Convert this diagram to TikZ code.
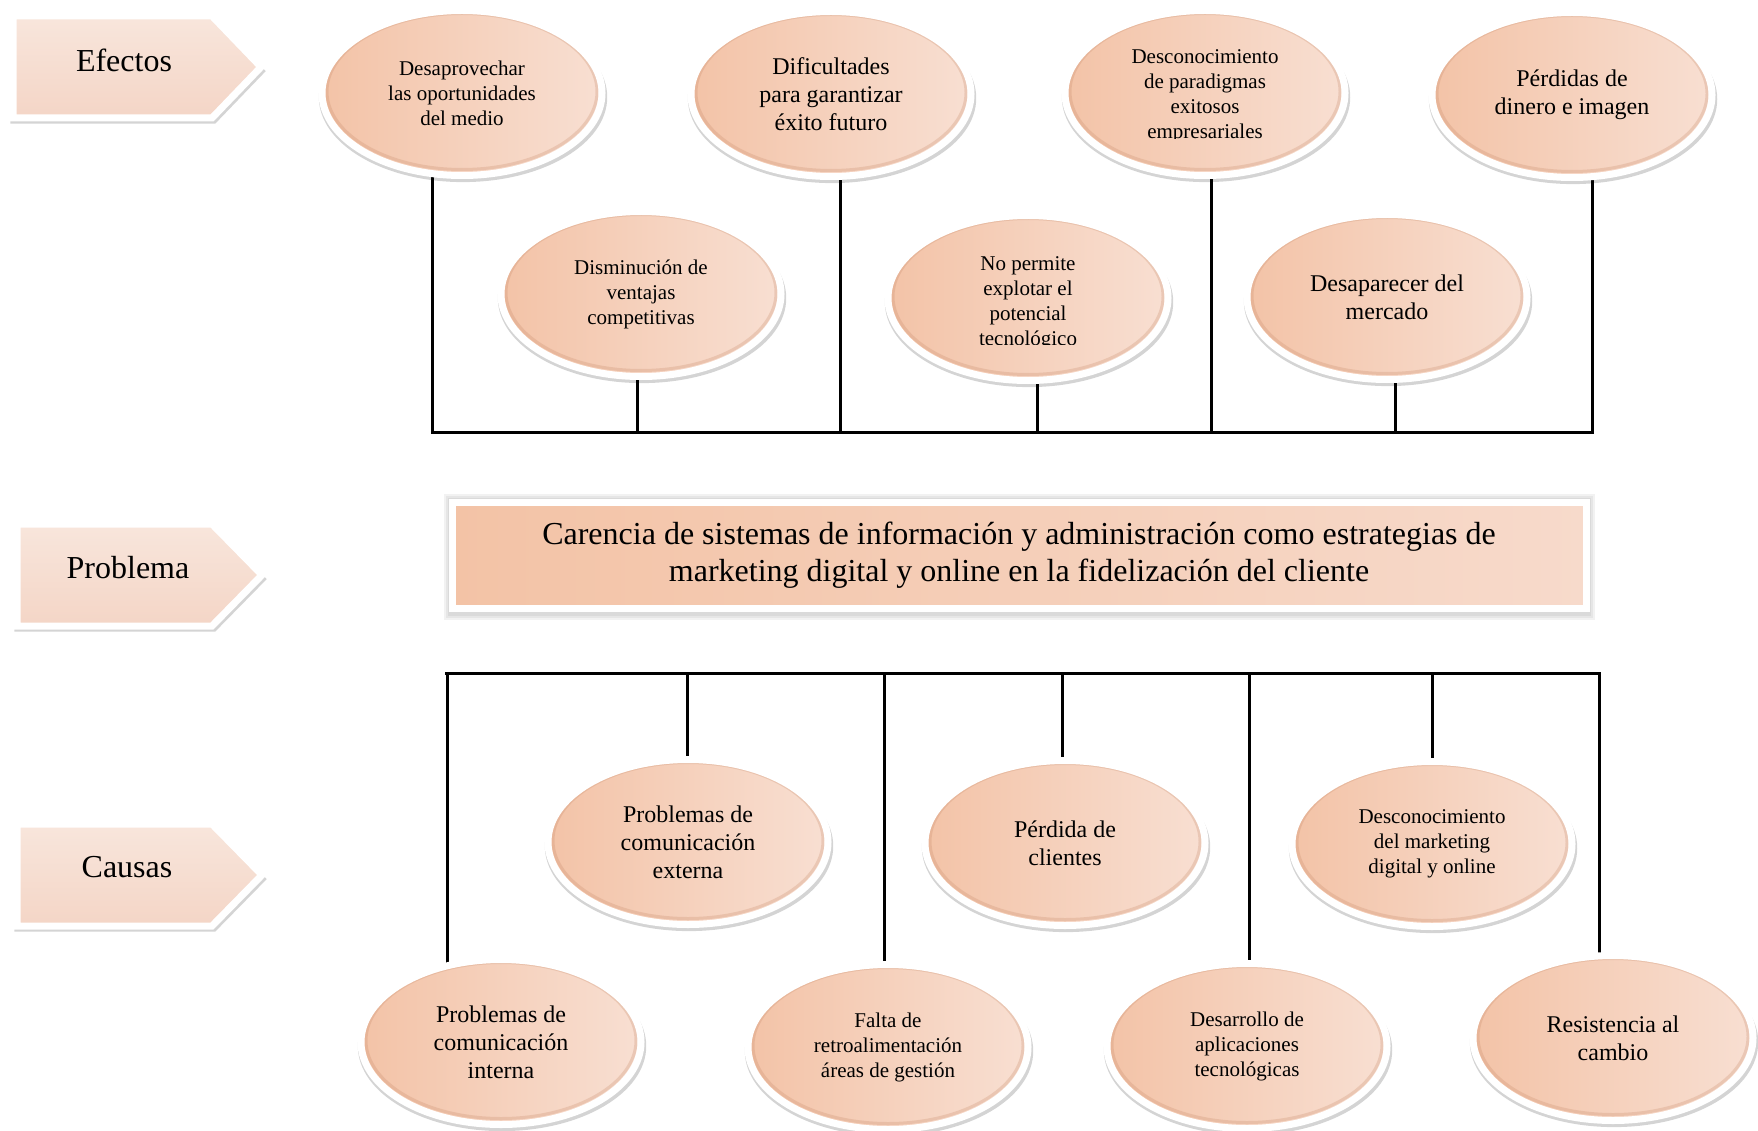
\documentclass[tikz,border=0pt]{standalone}
\usepackage{fontspec}
\setmainfont{Liberation Serif}
\usetikzlibrary{shapes.geometric,shadows}
\pgfdeclarelayer{bg}
\pgfsetlayers{bg,main}
\definecolor{peachD}{HTML}{F3C3A7}
\definecolor{peachL}{HTML}{F8DFD2}
\definecolor{rimC}{HTML}{C98E6E}
\definecolor{boxD}{HTML}{F3C3A6}
\definecolor{boxL}{HTML}{F7DACB}
\definecolor{tagT}{HTML}{F8E6DC}
\definecolor{tagB}{HTML}{F4D5C6}
\begin{document}
\begin{tikzpicture}[x=1pt,y=-1pt,
  softshadow/.style={drop shadow={shadow xshift=1pt, shadow yshift=-4pt,
      shadow scale=1.03, opacity=0.17, fill=black}},
  rim/.style={draw=rimC, line width=3pt, opacity=0.28},
  bubble/.style={ellipse, minimum width=280pt, minimum height=165pt,
      inner sep=0pt, align=center, left color=peachD, right color=peachL,
      draw=white, line width=7pt, softshadow,
      path picture={\draw[rim] ([yshift=1.5pt]path picture bounding box.center)
        ellipse [x radius=135pt, y radius=78pt];}},
  sm/.style={font=\fontsize{21pt}{25pt}\selectfont},
  lg/.style={font=\fontsize{24pt}{28pt}\selectfont},
  txt/.style={align=center, inner sep=0pt},
  tag/.style={top color=tagT, bottom color=tagB, draw=white, line width=7pt,
      line join=miter, softshadow},
  tagtext/.style={inner sep=0pt, font=\fontsize{32pt}{36pt}\selectfont},
  problem/.style={rectangle, minimum width=1134pt, minimum height=106pt,
      inner sep=0pt, align=center, left color=boxD, right color=boxL,
      draw=white, line width=7pt,
      font=\fontsize{32pt}{37pt}\selectfont},
  glow/.style={fill=black, opacity=0.05},
  link/.style={line width=3pt, line cap=rect}
]
\useasboundingbox (0,0) rectangle (1758,1131);

% ---- left-hand tags ----
\path[tag] (13,16) -- (212,16) -- (261,67) -- (212,118) -- (13,118) -- cycle;
\node[tagtext] (tEf) at (124,60) {Efectos};
\path[tag] (17,524) -- (212,524) -- (262,575) -- (212,626) -- (17,626) -- cycle;
\node[tagtext] (tPr) at (128,568) {Problema};
\path[tag] (17,824) -- (212,824) -- (262,875) -- (212,926) -- (17,926) -- cycle;
\node[tagtext] (tCa) at (127,867) {Causas};

% ---- effects ----
\node[bubble, sm] (e1) at (462,93) {Desaprovechar\\las oportunidades\\del medio};
\node[bubble, lg] (e2) at (831,94) {Dificultades\\para garantizar\\éxito futuro};
\node[bubble] (e3) at (1205,93) {};
\begin{scope}
  \clip (1050,0) rectangle (1370,139);
  \node[txt, sm] (e3t) at (1205,96) {Desconocimiento\\de paradigmas\\exitosos\\empresariales};
\end{scope}
\node[bubble, lg] (e4) at (1572,95) {Pérdidas de\\dinero e imagen};
\node[bubble, sm] (e5) at (641,294) {Disminución de\\ventajas\\competitivas};
\node[bubble] (e6) at (1028,298) {};
\begin{scope}
  \clip (880,200) rectangle (1180,345);
  \node[txt, sm] (e6t) at (1028,303) {No permite\\explotar el\\potencial\\tecnológico};
\end{scope}
\node[bubble, lg] (e7) at (1387,297) {Desaparecer del\\mercado};

% ---- central problem ----
\node[problem] (pb) at (1019,555) {Carencia de sistemas de información y administración como estrategias de\\marketing digital y online en la fidelización del cliente};

% ---- causes ----
\node[bubble, lg] (c1) at (501,1042) {Problemas de\\comunicación\\interna};
\node[bubble, lg] (c2) at (688,842) {Problemas de\\comunicación\\externa};
\node[bubble, sm] (c3) at (888,1047) {Falta de\\retroalimentación\\áreas de gestión};
\node[bubble, lg] (c4) at (1065,843) {Pérdida de\\clientes};
\node[bubble, sm] (c5) at (1247,1046) {Desarrollo de\\aplicaciones\\tecnológicas};
\node[bubble, sm] (c6) at (1432,844) {Desconocimiento\\del marketing\\digital y online};
\node[bubble, lg] (c7) at (1613,1038) {Resistencia al\\cambio};

% ---- connector buses ----
\coordinate (topL) at (432,432);
\coordinate (topR) at (1592,432);
\coordinate (botL) at (446,673);
\coordinate (botR) at (1598,673);

\coordinate (d1) at ([xshift=-30pt]e1.center);
\coordinate (d2) at ([xshift=9pt]e2.center);
\coordinate (d3) at ([xshift=6pt]e3.center);
\coordinate (d4) at ([xshift=20pt]e4.center);
\coordinate (d5) at ([xshift=-4pt]e5.center);
\coordinate (d6) at ([xshift=9pt]e6.center);
\coordinate (d7) at ([xshift=8pt]e7.center);

\coordinate (k1) at ([xshift=-54pt]c1.center);
\coordinate (k2) at ([xshift=-1pt]c2.center);
\coordinate (k3) at ([xshift=-4pt]c3.center);
\coordinate (k4) at ([xshift=-3pt]c4.center);
\coordinate (k5) at ([xshift=2pt]c5.center);
\coordinate (k6) at ([xshift=0pt]c6.center);
\coordinate (k7) at ([xshift=-14pt]c7.center);

\begin{pgfonlayer}{bg}
  % soft shadow around the problem box
  \foreach \s in {1,3,5}
    \fill[glow] ([xshift=-\s pt,yshift=\s pt]pb.north west)
      rectangle ([xshift=\s pt,yshift=-\s pt-3pt]pb.south east);
  \draw[link] (topL) -- (topR);
  \foreach \d in {d1,d2,d3,d4,d5,d6,d7}
    \draw[link] (\d) -- (\d |- topL);
  \draw[link] (botL) -- (botR);
  \foreach \k in {k1,k2,k3,k4,k5,k6,k7}
    \draw[link] (\k) -- (\k |- botL);
\end{pgfonlayer}
\end{tikzpicture}
\end{document}
